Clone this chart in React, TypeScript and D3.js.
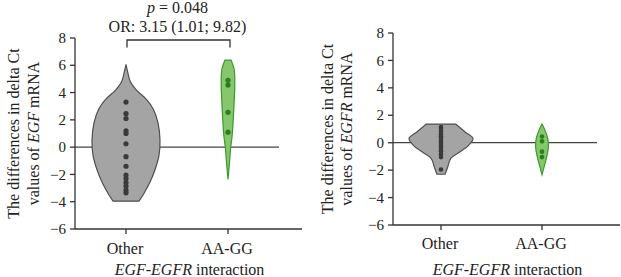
import React from 'react';
import * as d3 from 'd3';

// ---------- data ----------
const categories = ['Other', 'AA-GG'];
const yTickValues = [-6, -4, -2, 0, 2, 4, 6, 8];
const yTickLabels = ['\u22126', '\u22124', '\u22122', '0', '2', '4', '6', '8'];

// Panel 1: EGF mRNA
const egfOtherPoints = [3.3, 2.45, 2.1, 1.2, 1.0, 0.25, -0.7, -1.4, -2.05, -2.3, -2.6, -2.85, -3.15, -3.35];
const egfAAGGPoints = [4.9, 4.55, 2.55, 1.1];
// [value, relative density]
const egfOtherDensity: [number, number][] = [
  [6.06, 0], [5.5, 0.05], [4.8, 0.13], [4.2, 0.3], [3.5, 0.6], [2.8, 0.8], [1.8, 0.94],
  [0.5, 1], [-0.6, 0.97], [-1.6, 0.86], [-2.6, 0.7], [-3.47, 0.51], [-3.96, 0.38],
];
const egfAAGGDensity: [number, number][] = [
  [6.38, 0.09], [5.7, 0.18], [4.72, 0.2], [3.5, 0.185], [2.27, 0.16], [0.8, 0.12],
  [0, 0.08], [-1.4, 0.035], [-2.37, 0],
];

// Panel 2: EGFR mRNA
const egfrOtherPoints = [1.15, 1.0, 0.8, 0.62, 0.48, 0.35, 0.2, 0.05, -0.1, -0.27, -0.45, -0.62, -0.85, -1.05, -1.95];
const egfrAAGGPoints = [0.45, 0.1, -0.65, -1.05];
const egfrOtherDensity: [number, number][] = [
  [1.36, 0.43], [0.8, 0.7], [0.32, 0.94], [-0.17, 0.82], [-0.66, 0.56],
  [-1.14, 0.29], [-1.75, 0.2], [-2.3, 0.12],
];
const egfrAAGGDensity: [number, number][] = [
  [1.36, 0], [0.9, 0.09], [0.4, 0.16], [0, 0.185], [-0.4, 0.185], [-0.9, 0.15],
  [-1.5, 0.09], [-2.33, 0],
];

const annotationP = '0.048';
const annotationOR = 'OR: 3.15 (1.01; 9.82)';

// ---------- styles ----------
const FONT = '"Liberation Serif", "Times New Roman", serif';
const GRAY_FILL = '#a4a4a4';
const GRAY_STROKE = '#4f4f4f';
const GRAY_DOT = '#3a3a3a';
const GREEN_FILL = '#86c66c';
const GREEN_STROKE = '#3a9a2c';
const GREEN_DOT = '#2a7d1f';
const AXIS = '#333';

type PanelProps = {
  left: number;
  right: number;
  zeroEnd: number;
  top: number;
  bottom: number;
  cats: [number, number];
  catBaseline: number;
  labelX: [number, number];
  gene: string;
  densities: [[number, number][], [number, number][]];
  points: [number[], number[]];
  dotR: number;
};

function Panel(p: PanelProps) {
  const y = d3.scaleLinear().domain([-6, 8]).range([p.bottom, p.top]);
  const x = d3.scaleOrdinal<string, number>().domain(categories).range(p.cats);
  const w = d3.scaleLinear().domain([0, 1]).range([0, 34]);
  const fills = [GRAY_FILL, GREEN_FILL];
  const strokes = [GRAY_STROKE, GREEN_STROKE];
  const dots = [GRAY_DOT, GREEN_DOT];
  const midY = (p.top + p.bottom) / 2;
  const titleX = (p.left + p.right) / 2 + 1;
  return (
    <g>
      <line x1={p.left} x2={p.zeroEnd} y1={y(0)} y2={y(0)} stroke="#444" strokeWidth={1.3} />
      {categories.map((c, i) => {
        const cx = x(c);
        const area = d3
          .area<[number, number]>()
          .x0((d) => cx - w(d[1]))
          .x1((d) => cx + w(d[1]))
          .y((d) => y(d[0]))
          .curve(d3.curveCatmullRom);
        return (
          <g key={c}>
            <path d={area(p.densities[i]) || ''} fill={fills[i]} stroke={strokes[i]} strokeWidth={1.2} />
            {p.points[i].map((v, j) => (
              <circle key={j} cx={cx} cy={y(v)} r={p.dotR} fill={dots[i]} />
            ))}
          </g>
        );
      })}
      <line x1={p.left} x2={p.left} y1={p.top} y2={p.bottom} stroke={AXIS} strokeWidth={1.3} />
      {yTickValues.map((v, i) => (
        <g key={v}>
          <line x1={p.left - 5} x2={p.left} y1={y(v)} y2={y(v)} stroke={AXIS} strokeWidth={1.3} />
          <text x={p.left - 9} y={y(v)} dy="0.34em" textAnchor="end" fontSize={15} fontFamily={FONT} fill="#222">
            {yTickLabels[i]}
          </text>
        </g>
      ))}
      <line x1={p.left} x2={p.right} y1={p.bottom} y2={p.bottom} stroke={AXIS} strokeWidth={1.3} />
      {categories.map((c) => (
        <g key={c}>
          <line x1={x(c)} x2={x(c)} y1={p.bottom} y2={p.bottom + 5} stroke={AXIS} strokeWidth={1.3} />
          <text x={x(c) - 1} y={p.catBaseline} textAnchor="middle" fontSize={16} fontFamily={FONT} fill="#222">
            {c}
          </text>
        </g>
      ))}
      <text x={titleX} y={274.5} textAnchor="middle" fontSize={16} fontFamily={FONT} fill="#222">
        <tspan fontStyle="italic">EGF-EGFR</tspan> interaction
      </text>
      <text
        transform={`translate(${p.labelX[0]},${midY}) rotate(-90)`}
        textAnchor="middle"
        fontSize={16}
        fontFamily={FONT}
        fill="#222"
      >
        The differences in delta Ct
      </text>
      <text
        transform={`translate(${p.labelX[1]},${midY}) rotate(-90)`}
        textAnchor="middle"
        fontSize={16}
        fontFamily={FONT}
        fill="#222"
      >
        values of <tspan fontStyle="italic">{p.gene}</tspan> mRNA
      </text>
    </g>
  );
}

export default function App() {
  const bracketL = 127;
  const bracketR = 230;
  const bx = (bracketL + bracketR) / 2;
  return (
    <svg width={621} height={277} style={{ position: 'absolute', left: 0, top: 0 }}>
      <rect width={621} height={277} fill="#fff" />
      <Panel
        left={75}
        right={302}
        zeroEnd={279}
        top={38}
        bottom={229}
        cats={[126, 228]}
        catBaseline={254}
        labelX={[19, 39]}
        gene="EGF"
        densities={[egfOtherDensity, egfAAGGDensity]}
        points={[egfOtherPoints, egfAAGGPoints]}
        dotR={2.6}
      />
      <Panel
        left={393}
        right={620}
        zeroEnd={597}
        top={33}
        bottom={225}
        cats={[441, 542]}
        catBaseline={249}
        labelX={[333, 352]}
        gene="EGFR"
        densities={[egfrOtherDensity, egfrAAGGDensity]}
        points={[egfrOtherPoints, egfrAAGGPoints]}
        dotR={2.3}
      />
      <path
        d={`M${bracketL},47.5 V40 H${bracketR} V47.5`}
        fill="none"
        stroke={AXIS}
        strokeWidth={1.3}
      />
      <text x={bx - 1} y={12.5} textAnchor="middle" fontSize={16} fontFamily={FONT} fill="#222">
        <tspan fontStyle="italic">p</tspan> = {annotationP}
      </text>
      <text x={bx - 1} y={32} textAnchor="middle" fontSize={16} fontFamily={FONT} fill="#222">
        {annotationOR}
      </text>
    </svg>
  );
}
